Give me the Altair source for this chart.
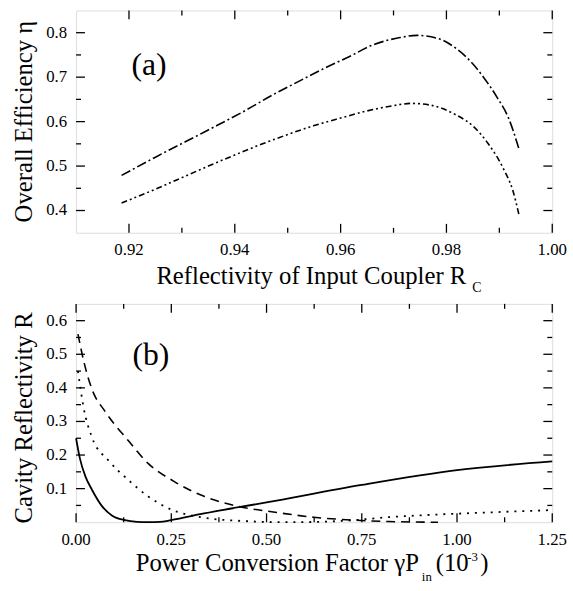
import altair as alt
import pandas as pd

FONT = "Liberation Serif"

# ---------------- Panel (a) data ----------------
rc_upper = [0.9186, 0.9250, 0.9348, 0.9420, 0.9473, 0.9520, 0.9566, 0.9616, 0.9660, 0.9712, 0.9744, 0.9784, 0.9821, 0.9846, 0.9870, 0.9896, 0.9917, 0.9937]
eta_upper = [0.479, 0.520, 0.580, 0.625, 0.661, 0.690, 0.718, 0.746, 0.772, 0.789, 0.794, 0.787, 0.762, 0.735, 0.700, 0.654, 0.609, 0.539]
rc_lower = [0.9186, 0.9250, 0.9300, 0.9350, 0.9400, 0.9450, 0.9500, 0.9550, 0.9600, 0.9650, 0.9700, 0.9734, 0.9770, 0.9815, 0.9850, 0.9878, 0.9909, 0.9925, 0.9937]
eta_lower = [0.417, 0.448, 0.474, 0.500, 0.525, 0.549, 0.571, 0.591, 0.608, 0.624, 0.636, 0.641, 0.637, 0.617, 0.590, 0.552, 0.491, 0.447, 0.391]

a_x_major = [0.92, 0.94, 0.96, 0.98, 1.00]
a_x_labels = ["0.92", "0.94", "0.96", "0.98", "1.00"]
a_x_minor = [0.93, 0.95, 0.97, 0.99]
a_y_major = [0.4, 0.5, 0.6, 0.7, 0.8]
a_y_labels = ["0.4", "0.5", "0.6", "0.7", "0.8"]
a_y_minor = [0.45, 0.55, 0.65, 0.75]

# ---------------- Panel (b) data ----------------
p_solid = [0.0, 0.010, 0.025, 0.042, 0.068, 0.094, 0.128, 0.160, 0.190, 0.220, 0.249, 0.336, 0.500, 0.750, 1.000, 1.250]
r_solid = [0.250, 0.190, 0.135, 0.096, 0.048, 0.020, 0.006, 0.001, 0.000, 0.001, 0.006, 0.026, 0.059, 0.111, 0.155, 0.181]
p_dashed = [0.005, 0.020, 0.042, 0.076, 0.137, 0.189, 0.258, 0.336, 0.423, 0.527, 0.630, 0.734, 0.820, 0.950]
r_dashed = [0.560, 0.480, 0.395, 0.330, 0.243, 0.175, 0.121, 0.077, 0.048, 0.029, 0.014, 0.006, 0.002, 0.000]
p_dotted = [0.005, 0.020, 0.042, 0.085, 0.137, 0.189, 0.249, 0.327, 0.431, 0.561, 0.700, 0.821, 0.951, 1.080, 1.244]
r_dotted = [0.450, 0.340, 0.252, 0.184, 0.126, 0.077, 0.038, 0.015, 0.004, 0.000, 0.004, 0.015, 0.023, 0.029, 0.036]

b_x_major = [0.0, 0.25, 0.5, 0.75, 1.0, 1.25]
b_x_labels = ["0.00", "0.25", "0.50", "0.75", "1.00", "1.25"]
b_x_minor = [0.125, 0.375, 0.625, 0.875, 1.125]
b_y_major = [0.1, 0.2, 0.3, 0.4, 0.5, 0.6]
b_y_labels = ["0.1", "0.2", "0.3", "0.4", "0.5", "0.6"]
b_y_minor = [0.05, 0.15, 0.25, 0.35, 0.45, 0.55]

W = 482
HA = 225
HB = 221


def ticks_layers(xs, ys, W, H, x_major, x_minor, y_major, y_minor):
    layers = []
    for vals, L in ((x_major, 9), (x_minor, 5)):
        df = pd.DataFrame({"v": vals})
        for y0, y1 in ((H, H - L), (0, L)):
            layers.append(
                alt.Chart(df).mark_rule(color="black", strokeWidth=1.3).encode(
                    x=alt.X("v:Q", scale=xs, axis=None),
                    y=alt.value(y0), y2=alt.value(y1)))
    for vals, L in ((y_major, 9), (y_minor, 5)):
        df = pd.DataFrame({"v": vals})
        for x0, x1 in ((0, L), (W, W - L)):
            layers.append(
                alt.Chart(df).mark_rule(color="black", strokeWidth=1.3).encode(
                    y=alt.Y("v:Q", scale=ys, axis=None),
                    x=alt.value(x0), x2=alt.value(x1)))
    return layers


def label_layers(xs, ys, H, x_vals, x_labs, y_vals, y_labs):
    xl = alt.Chart(pd.DataFrame({"v": x_vals, "t": x_labs})).mark_text(
        font=FONT, fontSize=17, align="center", baseline="top", color="black"
    ).encode(x=alt.X("v:Q", scale=xs, axis=None), y=alt.value(H + 10), text="t:N")
    yl = alt.Chart(pd.DataFrame({"v": y_vals, "t": y_labs})).mark_text(
        font=FONT, fontSize=17, align="right", baseline="middle", color="black"
    ).encode(y=alt.Y("v:Q", scale=ys, axis=None), x=alt.value(-9), text="t:N")
    return [xl, yl]


def text_layer(txt, x, y, size, align="left", angle=0):
    return alt.Chart(pd.DataFrame({"t": [txt]})).mark_text(
        font=FONT, fontSize=size, align=align, baseline="alphabetic", color="black", angle=angle
    ).encode(x=alt.value(x), y=alt.value(y), text="t:N")


# ---------------- Panel (a) ----------------
xs_a = alt.Scale(domain=[0.91, 1.00], nice=False, zero=False)
ys_a = alt.Scale(domain=[0.35, 0.85], nice=False, zero=False)

up = alt.Chart(pd.DataFrame({"x": rc_upper, "y": eta_upper})).mark_line(
    color="black", strokeWidth=1.6, strokeDash=[10, 3, 2, 3], interpolate="monotone"
).encode(x=alt.X("x:Q", scale=xs_a, axis=None), y=alt.Y("y:Q", scale=ys_a, axis=None))
lo = alt.Chart(pd.DataFrame({"x": rc_lower, "y": eta_lower})).mark_line(
    color="black", strokeWidth=1.6, strokeDash=[6, 3, 2, 3, 2, 3], interpolate="monotone"
).encode(x=alt.X("x:Q", scale=xs_a, axis=None), y=alt.Y("y:Q", scale=ys_a, axis=None))

panel_a = alt.layer(
    up, lo,
    *ticks_layers(xs_a, ys_a, W, HA, a_x_major, a_x_minor, a_y_major, a_y_minor),
    *label_layers(xs_a, ys_a, HA, a_x_major, a_x_labels, a_y_major, a_y_labels),
    text_layer("Overall Efficiency η", -45, HA / 2, 25, align="center", angle=270),
    text_layer("(a)", 56, 65, 32),
    text_layer("Reflectivity of Input Coupler R", 395, 277, 25, align="right"),
    text_layer("C", 401, 285, 14),
).properties(width=W, height=HA)

# ---------------- Panel (b) ----------------
xs_b = alt.Scale(domain=[0.0, 1.25], nice=False, zero=False)
ys_b = alt.Scale(domain=[0.0, 0.65], nice=False, zero=False)

so = alt.Chart(pd.DataFrame({"x": p_solid, "y": r_solid})).mark_line(
    color="black", strokeWidth=1.8, interpolate="monotone"
).encode(x=alt.X("x:Q", scale=xs_b, axis=None), y=alt.Y("y:Q", scale=ys_b, axis=None))
da = alt.Chart(pd.DataFrame({"x": p_dashed, "y": r_dashed})).mark_line(
    color="black", strokeWidth=1.6, strokeDash=[9, 6], interpolate="monotone"
).encode(x=alt.X("x:Q", scale=xs_b, axis=None), y=alt.Y("y:Q", scale=ys_b, axis=None))
do = alt.Chart(pd.DataFrame({"x": p_dotted, "y": r_dotted})).mark_line(
    color="black", strokeWidth=1.8, strokeDash=[2, 6], interpolate="monotone"
).encode(x=alt.X("x:Q", scale=xs_b, axis=None), y=alt.Y("y:Q", scale=ys_b, axis=None))

panel_b = alt.layer(
    so, da, do,
    *ticks_layers(xs_b, ys_b, W, HB, b_x_major, b_x_minor, b_y_major, b_y_minor),
    *label_layers(xs_b, ys_b, HB, b_x_major, b_x_labels, b_y_major, b_y_labels),
    text_layer("Cavity Reflectivity R", -45, HB / 2 + 5, 25, align="center", angle=270),
    text_layer("(b)", 57, 62, 32),
    text_layer("Power Conversion Factor γP", 347, 270, 25, align="right"),
    text_layer("in", 350, 281, 13),
    text_layer("(10", 364, 270, 25),
    text_layer("-3", 396, 260, 13),
    text_layer(")", 409, 270, 25),
).properties(width=W, height=HB)

chart = alt.vconcat(panel_a, panel_b, spacing=72, bounds="flush").properties(
    padding={"left": 11, "top": 5, "right": 5, "bottom": 0}
).configure_view(stroke="black", strokeWidth=1.6).configure(background="white")

chart.save("out.html", embed_options={"renderer": "svg", "actions": False})
